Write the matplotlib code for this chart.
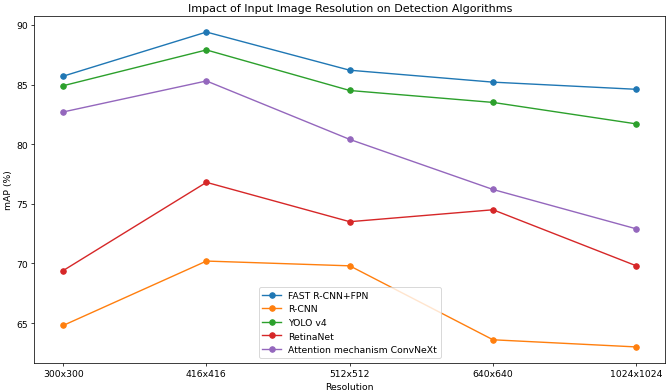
import matplotlib
matplotlib.use("Agg")
import matplotlib.pyplot as plt

# Dados
resolutions = ["300x300", "416x416", "512x512", "640x640", "1024x1024"]
fast_rcnn_fpn = [85.7, 89.4, 86.2, 85.2, 84.6]
rcnn = [64.8, 70.2, 69.8, 63.6, 63.0]
yolo_v4 = [84.9, 87.9, 84.5, 83.5, 81.7]
retinanet = [69.4, 76.8, 73.5, 74.5, 69.8]
convnext = [82.7, 85.3, 80.4, 76.2, 72.9]

fig = plt.figure(figsize=(10, 5.883), dpi=66.8)
plt.subplots_adjust(left=0.0516, right=0.9955, top=0.956, bottom=0.0746)

plt.plot(resolutions, fast_rcnn_fpn, marker="o", label="FAST R-CNN+FPN")
plt.plot(resolutions, rcnn, marker="o", label="R-CNN")
plt.plot(resolutions, yolo_v4, marker="o", label="YOLO v4")
plt.plot(resolutions, retinanet, marker="o", label="RetinaNet")
plt.plot(resolutions, convnext, marker="o", label="Attention mechanism ConvNeXt")

plt.title("Impact of Input Image Resolution on Detection Algorithms")
plt.xlabel("Resolution")
plt.ylabel("mAP (%)")
plt.legend()

plt.savefig("out.png", dpi=66.8)
plt.close()
